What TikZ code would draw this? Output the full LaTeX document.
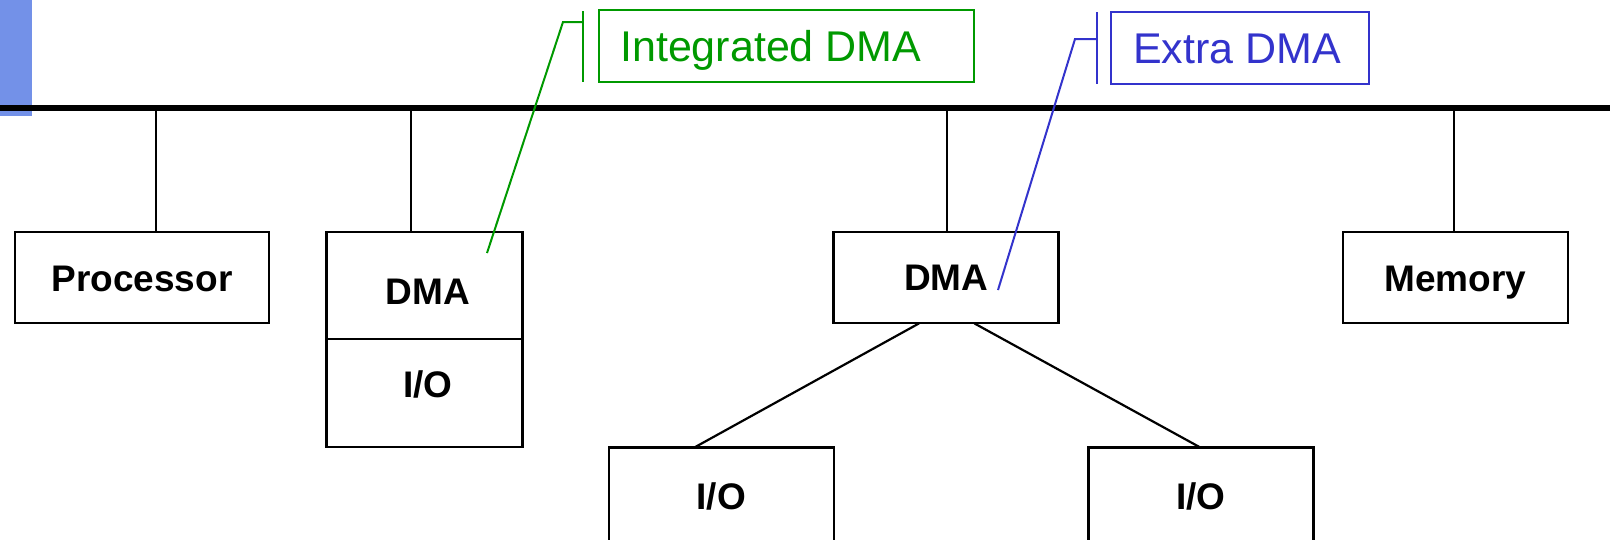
\documentclass[tikz,border=0pt]{standalone}
\usepackage{fontspec}
\setmainfont{Liberation Sans}
\definecolor{dmagreen}{RGB}{0,153,0}
\definecolor{dmablue}{RGB}{51,51,204}
\definecolor{barblue}{RGB}{115,145,232}
\tikzset{
  unit/.style={draw=black, line width=2.5pt, rectangle, inner sep=0pt, fill=white},
  lbl/.style={font=\fontsize{37}{40}\selectfont\bfseries, inner sep=0pt},
  bus/.style={line width=5.5pt, black},
  wire/.style={line width=2.2pt, black},
  calloutframe/.style={line width=2pt, rectangle, inner sep=0pt},
  callouttext/.style={inner sep=0pt, anchor=base west, font=\fontsize{43}{46}\selectfont},
  leaderg/.style={draw=dmagreen, line width=2pt},
  leaderb/.style={draw=dmablue, line width=2pt},
}
\begin{document}
\begin{tikzpicture}[x=1pt, y=-1pt]
\useasboundingbox (0,0) rectangle (1610,539);
\clip (0,0) rectangle (1610,539);
\fill[barblue] (0,0) rectangle (32,116);
% bus
\coordinate (busL) at (0,108);
\coordinate (busR) at (1610,108);
\draw[bus] (busL) -- (busR);
% units
\node[unit, minimum width=254pt, minimum height=91pt] (proc) at (142,277.7) {};
\node[lbl] (proctxt) at (142,279) {Processor};
\node[unit, minimum width=196pt, minimum height=107pt] (idma) at (424.5,285.5) {};
\node[lbl] (idmatxt) at (428,292) {DMA};
\node[unit, minimum width=196pt, minimum height=108pt] (iio) at (424.5,393) {};
\node[lbl] (iiotxt) at (428,384) {I/O};
\node[unit, minimum width=225pt, minimum height=91pt] (edma) at (946.2,277.7) {};
\node[lbl] (edmatxt) at (946.2,278) {DMA};
\node[unit, minimum width=225pt, minimum height=91pt] (mem) at (1455.5,277.7) {};
\node[lbl] (memtxt) at (1455.5,283) {Memory};
\node[unit, minimum width=225pt, minimum height=120pt] (io1) at (721.3,507.7) {};
\node[lbl] (io1txt) at (721.3,496) {I/O};
\node[unit, minimum width=225pt, minimum height=120pt] (io2) at (1200.8,507.7) {};
\node[lbl] (io2txt) at (1200.8,496) {I/O};
% stubs from bus
\coordinate (bp) at (156,108);
\coordinate (bi) at (411,108);
\coordinate (be) at (946.7,108);
\coordinate (bm) at (1454,108);
\draw[wire] (bp) -- (bp |- proc.north);
\draw[wire] (bi) -- (bi |- idma.north);
\draw[wire] (be) -- (be |- edma.north);
\draw[wire] (bm) -- (bm |- mem.north);
% DMA to I/O
\coordinate (d1) at (919,323.4);
\coordinate (d2) at (974.4,323.4);
\coordinate (i1) at (694,447.7);
\coordinate (i2) at (1200.7,447.7);
\draw[wire] (d1) -- (i1);
\draw[wire] (d2) -- (i2);
% callouts
\node[calloutframe, draw=dmagreen, minimum width=375pt, minimum height=72pt] (intlabel) at (786.5,46) {};
\node[callouttext, text=dmagreen] (inttxt) at (620,61) {Integrated DMA};
\coordinate (gt1) at (583,11);
\coordinate (gt2) at (583,82);
\coordinate (gk) at (563,22);
\coordinate (gtip) at (487,253);
\draw[leaderg] (gt1) -- (gt2);
\draw[leaderg] (gt1 |- gk) -- (gk) -- (gtip);
\node[calloutframe, draw=dmablue, minimum width=258pt, minimum height=72pt] (extlabel) at (1240,48) {};
\node[callouttext, text=dmablue] (exttxt) at (1133,63) {Extra DMA};
\coordinate (bt1) at (1097,12);
\coordinate (bt2) at (1097,84);
\coordinate (bk) at (1075,39);
\coordinate (btip) at (998,290);
\draw[leaderb] (bt1) -- (bt2);
\draw[leaderb] (bt1 |- bk) -- (bk) -- (btip);
\end{tikzpicture}
\end{document}
